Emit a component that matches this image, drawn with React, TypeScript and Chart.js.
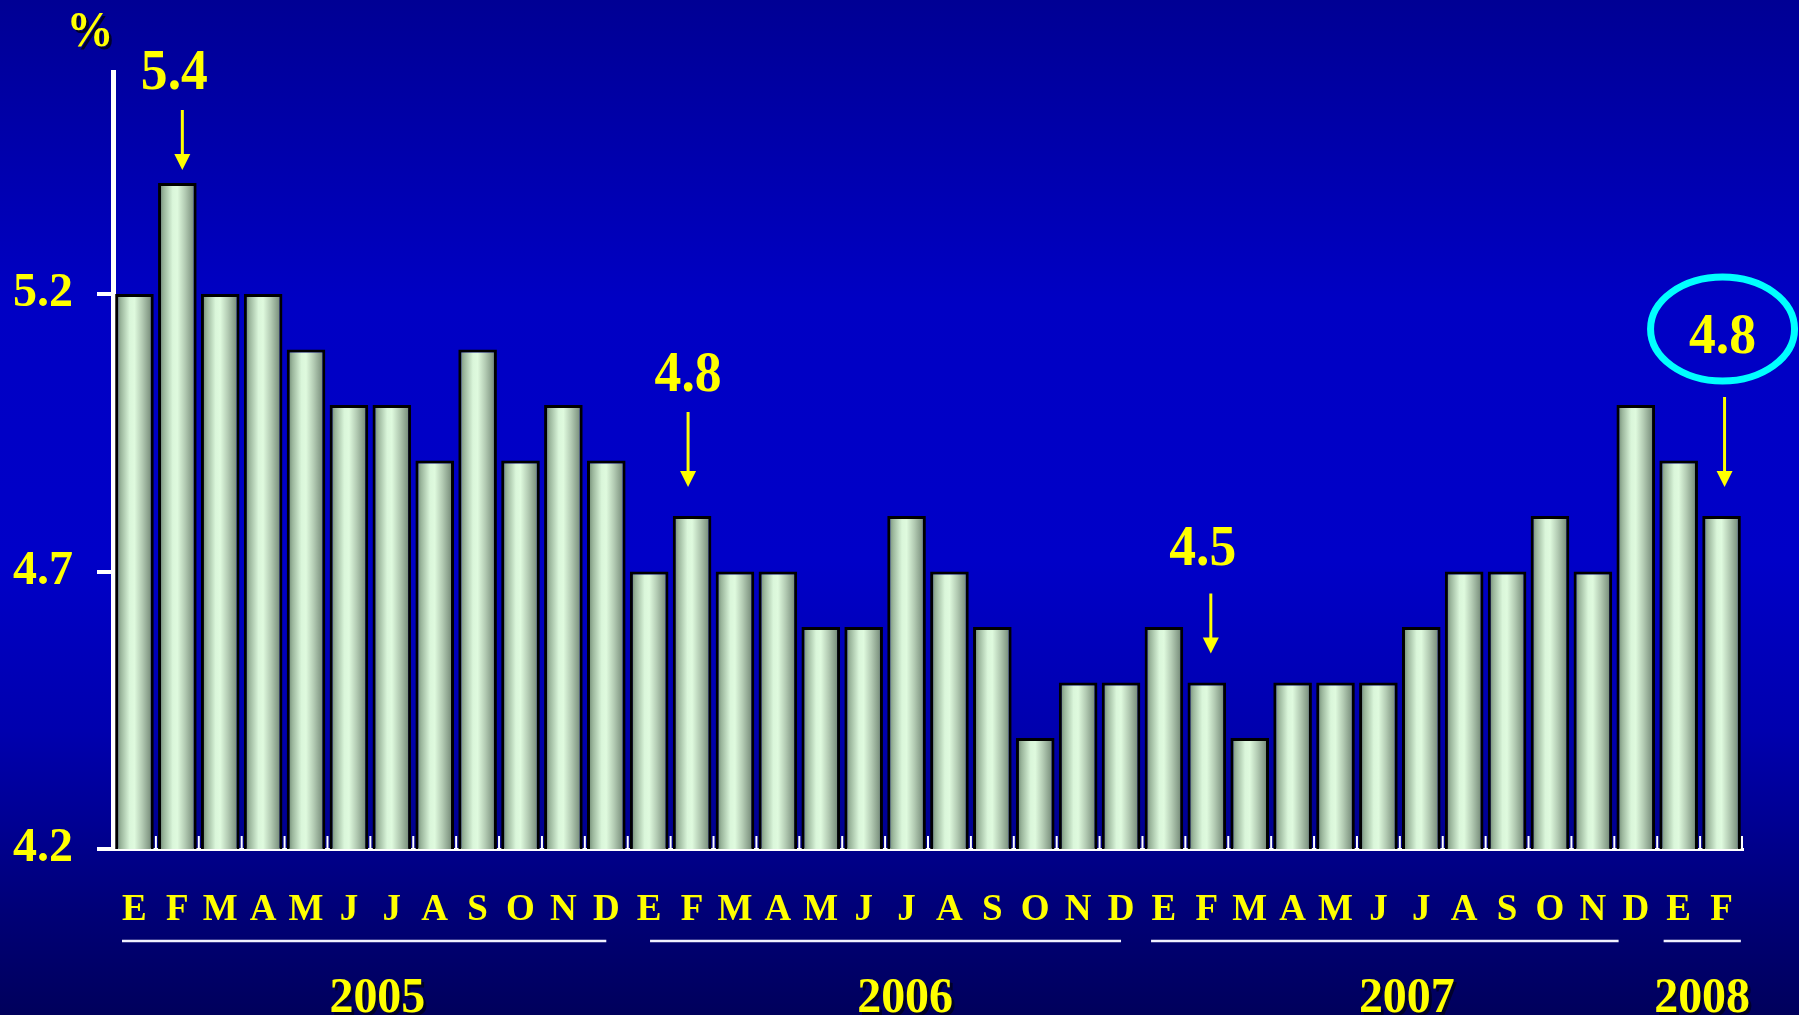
import React, { useEffect, useRef } from 'react';
import { Chart, registerables } from 'chart.js';

Chart.register(...registerables);

// ---- data ----
const monthLabels = [
  'E', 'F', 'M', 'A', 'M', 'J', 'J', 'A', 'S', 'O', 'N', 'D',
  'E', 'F', 'M', 'A', 'M', 'J', 'J', 'A', 'S', 'O', 'N', 'D',
  'E', 'F', 'M', 'A', 'M', 'J', 'J', 'A', 'S', 'O', 'N', 'D',
  'E', 'F',
];
const rateValues = [
  5.2, 5.4, 5.2, 5.2, 5.1, 5.0, 5.0, 4.9, 5.1, 4.9, 5.0, 4.9,
  4.7, 4.8, 4.7, 4.7, 4.6, 4.6, 4.8, 4.7, 4.6, 4.4, 4.5, 4.5,
  4.6, 4.5, 4.4, 4.5, 4.5, 4.5, 4.6, 4.7, 4.7, 4.8, 4.7, 5.0,
  4.9, 4.8,
];
const yTickValues = [4.2, 4.7, 5.2];
const yMin = 4.2;
const yMax = 5.6;
const unitLabel = '%';

const yearLabels = ['2005', '2006', '2007', '2008'];
const yearFirstIndex = [0, 12, 24, 36];
const yearLastIndex = [11, 23, 35, 37];
// underline extent, in category units
const yearLineStart = [-0.29, 12.02, 23.7, 35.65];
const yearLineEnd = [11.0, 23.0, 34.6, 37.45];

const annIndex = [1, 13, 25, 37];
const annText = ['5.4', '4.8', '4.5', '4.8'];
const annCircled = [false, false, false, true];

// ---- styling / layout constants (pixels relative to bar tops) ----
const ANN_TEXT_LIFT = [113, 144, 137, 182];
const ANN_ARROW_TOP = [73, 104, 89, 119];
const ANN_ARROW_GAP = [13, 29, 29, 29];
const ANN_ARROW_DX = [5, -4, 4, 3];
const ANN_TEXT_DX = [-3, -4, -4, 1];

const YELLOW = '#ffff00';
const SERIF = '"Liberation Serif", "Times New Roman", serif';
const SQUEEZE = 0.94;
const BAR_FRACTION = 0.9;

function drawText(
  ctx: CanvasRenderingContext2D,
  text: string,
  x: number,
  centerY: number,
  size: number,
  shadow: boolean
) {
  ctx.save();
  ctx.translate(x, centerY + size * 0.338);
  ctx.scale(SQUEEZE, 1);
  ctx.font = `bold ${size}px ${SERIF}`;
  ctx.textAlign = 'center';
  ctx.textBaseline = 'alphabetic';
  if (shadow) {
    ctx.fillStyle = '#00002a';
    ctx.fillText(text, 3, 3);
  }
  ctx.fillStyle = YELLOW;
  ctx.fillText(text, 0, 0);
  ctx.restore();
}

const backgroundPlugin = {
  id: 'bgGradient',
  beforeDraw(chart: any) {
    const { ctx, width, height } = chart;
    const g = ctx.createLinearGradient(0, 0, 0, height);
    g.addColorStop(0, '#000094');
    g.addColorStop(0.3, '#0000c4');
    g.addColorStop(0.55, '#0000c8');
    g.addColorStop(0.72, '#0000ae');
    g.addColorStop(0.8, '#000096');
    g.addColorStop(0.9, '#000076');
    g.addColorStop(1, '#00005c');
    ctx.save();
    ctx.fillStyle = g;
    ctx.fillRect(0, 0, width, height);
    ctx.restore();
  },
};

const overlayPlugin = {
  id: 'overlay',
  afterDatasetsDraw(chart: any) {
    const { ctx, chartArea } = chart;
    const xs = chart.scales.x;
    const n = rateValues.length;

    // small upward ticks between categories
    ctx.save();
    ctx.strokeStyle = '#ffffff';
    ctx.lineWidth = 2;
    for (let i = 1; i <= n; i++) {
      const x = i < n ? (xs.getPixelForValue(i - 1) + xs.getPixelForValue(i)) / 2 : chartArea.right - 1;
      ctx.beginPath();
      ctx.moveTo(x, chartArea.bottom - 13);
      ctx.lineTo(x, chartArea.bottom);
      ctx.stroke();
    }
    ctx.restore();
  },
  afterDraw(chart: any) {
    const { ctx, chartArea } = chart;
    const xs = chart.scales.x;
    const ys = chart.scales.y;

    // unit label
    drawText(ctx, unitLabel, 90, 29, 50, true);

    // year lines & labels
    const lineY = chartArea.bottom + 92;
    const yearY = chartArea.bottom + 146;
    ctx.save();
    ctx.strokeStyle = '#f0f0ff';
    ctx.lineWidth = 2.5;
    for (let g = 0; g < yearLabels.length; g++) {
      const x0 = xs.getPixelForValue(yearLineStart[g]);
      const x1 = xs.getPixelForValue(yearLineEnd[g]);
      ctx.beginPath();
      ctx.moveTo(x0, lineY);
      ctx.lineTo(x1, lineY);
      ctx.stroke();
    }
    ctx.restore();
    for (let g = 0; g < yearLabels.length; g++) {
      const cx =
        (xs.getPixelForValue(yearFirstIndex[g]) + xs.getPixelForValue(yearLastIndex[g])) / 2 +
        (g === 1 ? 20 : g === 3 ? 2 : 7);
      drawText(ctx, yearLabels[g], cx, yearY, 51, true);
    }

    // annotations
    for (let a = 0; a < annIndex.length; a++) {
      const idx = annIndex[a];
      const bx = xs.getPixelForValue(idx);
      const top = ys.getPixelForValue(rateValues[idx]);
      const tx = bx + ANN_TEXT_DX[a];
      const ty = top - ANN_TEXT_LIFT[a];
      if (annCircled[a]) {
        ctx.save();
        ctx.strokeStyle = '#00ffff';
        ctx.lineWidth = 7;
        ctx.beginPath();
        ctx.ellipse(tx, ty - 5, 72, 52, 0, 0, Math.PI * 2);
        ctx.stroke();
        ctx.restore();
      }
      drawText(ctx, annText[a], tx, ty, 57, false);

      const ax = bx + ANN_ARROW_DX[a];
      const tipY = top - ANN_ARROW_GAP[a];
      const startY = top - ANN_ARROW_TOP[a];
      ctx.save();
      ctx.strokeStyle = YELLOW;
      ctx.fillStyle = YELLOW;
      ctx.lineWidth = 3;
      ctx.beginPath();
      ctx.moveTo(ax, startY);
      ctx.lineTo(ax, tipY - 12);
      ctx.stroke();
      ctx.beginPath();
      ctx.moveTo(ax - 8, tipY - 16);
      ctx.lineTo(ax + 8, tipY - 16);
      ctx.lineTo(ax, tipY);
      ctx.closePath();
      ctx.fill();
      ctx.restore();
    }
  },
};

export default function App() {
  const canvasRef = useRef<HTMLCanvasElement | null>(null);

  useEffect(() => {
    const canvas = canvasRef.current;
    if (!canvas) return;
    const n = rateValues.length;

    const barFill = (c: any) => {
      const chart = c.chart;
      const xs = chart.scales && chart.scales.x;
      if (!xs || c.type !== 'data' || !isFinite(xs.width) || xs.width <= 0) return '#d8f0d8';
      const cx = xs.getPixelForValue(c.dataIndex);
      const w = (xs.width / n) * BAR_FRACTION;
      const g = chart.ctx.createLinearGradient(cx - w / 2, 0, cx + w / 2, 0);
      g.addColorStop(0, '#627c66');
      g.addColorStop(0.15, '#9bb69c');
      g.addColorStop(0.38, '#daf6da');
      g.addColorStop(0.5, '#dffade');
      g.addColorStop(0.7, '#b3cbb3');
      g.addColorStop(0.88, '#869c88');
      g.addColorStop(1, '#617664');
      return g;
    };

    const chart = new Chart(canvas, {
      type: 'bar',
      data: {
        labels: monthLabels,
        datasets: [
          {
            data: rateValues,
            backgroundColor: barFill as any,
            borderColor: '#000000',
            borderWidth: 3,
            barPercentage: BAR_FRACTION,
            categoryPercentage: 1,
          },
        ],
      },
      plugins: [backgroundPlugin, overlayPlugin],
      options: {
        animation: false,
        responsive: true,
        maintainAspectRatio: false,
        layout: { padding: { top: 72, right: 56, bottom: 0, left: 0 } },
        plugins: {
          legend: { display: false },
          tooltip: { enabled: false },
        },
        scales: {
          x: {
            offset: true,
            grid: { display: false },
            border: { display: true, color: '#ffffff', width: 3 },
            ticks: {
              autoSkip: false,
              maxRotation: 0,
              minRotation: 0,
              color: YELLOW,
              padding: 31,
              font: { family: SERIF, weight: 'bold', size: 37 },
            },
            afterFit: (scale: any) => {
              scale.height = 166;
            },
          },
          y: {
            min: yMin,
            max: yMax,
            bounds: 'data',
            grid: {
              display: true,
              drawOnChartArea: false,
              drawTicks: true,
              tickLength: 16,
              color: '#ffffff',
              lineWidth: 4,
            },
            border: { display: true, color: '#ffffff', width: 5 },
            ticks: {
              color: YELLOW,
              padding: 24,
              font: { family: SERIF, weight: 'bold', size: 48 },
              callback: (v: any) => Number(v).toFixed(1),
            },
            afterBuildTicks: (scale: any) => {
              scale.ticks = yTickValues.map((v) => ({ value: v }));
            },
            afterFit: (scale: any) => {
              scale.width = 113;
            },
          },
        },
      } as any,
    });

    return () => {
      chart.destroy();
    };
  }, []);

  return (
    <div style={{ position: 'fixed', left: 0, top: 0, width: 1799, height: 1015, background: '#000090' }}>
      <canvas ref={canvasRef} />
    </div>
  );
}
